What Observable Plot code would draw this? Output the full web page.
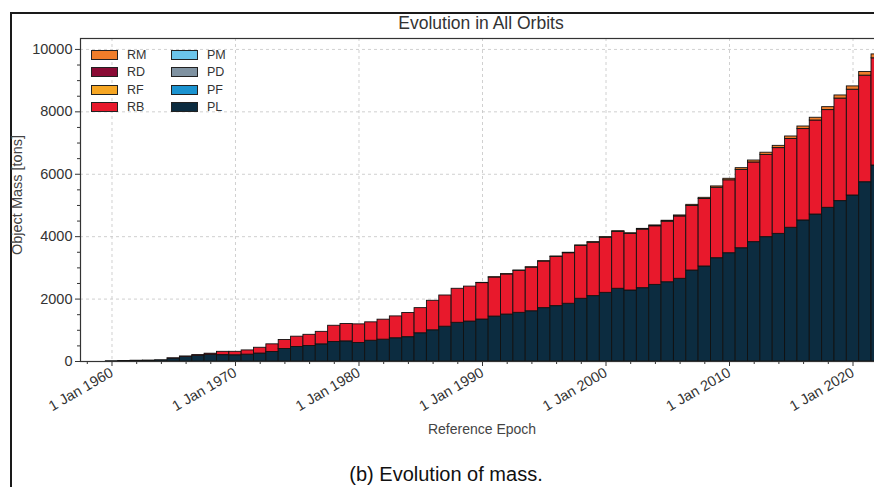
<!DOCTYPE html>
<html>
<head>
<meta charset="utf-8">
<script src="https://cdn.jsdelivr.net/npm/d3@7"></script>
<script src="https://cdn.jsdelivr.net/npm/@observablehq/plot@0.6"></script>
<style>
  html, body { margin: 0; padding: 0; background: #fff; }
  #page { position: relative; width: 874px; height: 487px; overflow: hidden; font-family: "Liberation Sans", Arial, sans-serif; }
  #frame { position: absolute; left: 10px; top: 12px; width: 900px; height: 520px; border: 2px solid #1a1a1a; box-sizing: border-box; }
  #chart { position: absolute; left: 0; top: 0; width: 894px; height: 440px; }
  #chart svg { max-width: none !important; }
  .lbl { position: absolute; white-space: nowrap; line-height: 1; }
  #title { left: 481px; top: 15px; transform: translateX(-50%); font-size: 17.5px; color: #333; }
  #xlabel { left: 482px; top: 422px; transform: translateX(-50%); font-size: 14px; color: #444; }
  #ylabel { left: 17px; top: 195px; transform: translate(-50%, -50%) rotate(-90deg); font-size: 14.5px; color: #444; }
  #caption { left: 446px; top: 464px; transform: translateX(-50%); font-size: 20px; color: #111; }
  #legend { position: absolute; left: 91px; top: 46px; display: grid; grid-template-rows: repeat(4, 17.5px); grid-auto-flow: column; grid-template-columns: 80px 80px; font-size: 12.5px; color: #333; }
  .item { display: flex; align-items: center; }
  .sw { width: 25px; height: 8px; border: 1px solid #222; margin-right: 9px; }
</style>
</head>
<body>
<div id="page">
  <div id="frame"></div>
  <div id="chart"></div>
  <div id="title" class="lbl">Evolution in All Orbits</div>
  <div id="xlabel" class="lbl">Reference Epoch</div>
  <div id="ylabel" class="lbl">Object Mass [tons]</div>
  <div id="caption" class="lbl">(b) Evolution of mass.</div>
  <div id="legend"></div>
</div>
<script>
// Categories in stacking order (bottom to top)
const categories = ["PL", "PF", "PD", "PM", "RB", "RF", "RD", "RM"];
const categoryColors = ["#0c2c40", "#1b93d0", "#7f92a1", "#6cc5ea", "#e8192c", "#f6a623", "#8a0b35", "#f07d2a"];
// Legend order (column-wise)
const legendOrder = ["RM", "RD", "RF", "RB", "PM", "PD", "PF", "PL"];

const years = [1960, 1961, 1962, 1963, 1964, 1965, 1966, 1967, 1968, 1969,
  1970, 1971, 1972, 1973, 1974, 1975, 1976, 1977, 1978, 1979,
  1980, 1981, 1982, 1983, 1984, 1985, 1986, 1987, 1988, 1989,
  1990, 1991, 1992, 1993, 1994, 1995, 1996, 1997, 1998, 1999,
  2000, 2001, 2002, 2003, 2004, 2005, 2006, 2007, 2008, 2009,
  2010, 2011, 2012, 2013, 2014, 2015, 2016, 2017, 2018, 2019,
  2020, 2021, 2022];

// Payload mass (PL), tons
const massPL = [8, 15, 25, 30, 40, 95, 150, 185, 215, 205,
  200, 220, 255, 305, 400, 465, 495, 550, 625, 645,
  595, 665, 700, 745, 780, 905, 1000, 1115, 1240, 1280,
  1345, 1440, 1505, 1560, 1610, 1710, 1775, 1850, 2010, 2095,
  2200, 2330, 2275, 2350, 2455, 2540, 2650, 2915, 3045, 3310,
  3470, 3630, 3825, 3985, 4090, 4285, 4520, 4710, 4925, 5140,
  5320, 5745, 6280];

// Rocket body mass (RB), tons
const massRB = [0, 0, 0, 0, 0, 5, 10, 20, 35, 105,
  110, 135, 185, 245, 290, 330, 360, 400, 520, 555,
  595, 590, 640, 700, 775, 805, 945, 1000, 1090, 1120,
  1167, 1252, 1285, 1345, 1398, 1493, 1576, 1620, 1694, 1712,
  1765, 1823, 1813, 1875, 1878, 1940, 1998, 2070, 2162, 2258,
  2337, 2510, 2553, 2635, 2748, 2847, 2928, 3012, 3131, 3285,
  3389, 3415, 3435];

// Rocket mission related object mass (RM), tons
const massRM = [0, 0, 0, 0, 0, 0, 0, 0, 0, 0,
  0, 0, 0, 0, 0, 0, 0, 0, 0, 0,
  0, 0, 0, 0, 0, 0, 0, 0, 0, 0,
  8, 8, 10, 10, 12, 12, 14, 15, 16, 18,
  20, 22, 22, 25, 27, 30, 32, 35, 38, 42,
  48, 55, 62, 70, 72, 78, 82, 88, 94, 100,
  106, 115, 125];

const seriesByCat = { PL: massPL, RB: massRB, RM: massRM };

const majorYears = [1960, 1970, 1980, 1990, 2000, 2010, 2020];
const minorYears = [1958, 1962, 1964, 1966, 1968, 1972, 1974, 1976, 1978, 1982, 1984, 1986, 1988,
  1992, 1994, 1996, 1998, 2002, 2004, 2006, 2008, 2012, 2014, 2016, 2018, 2022];
const majorMass = [0, 2000, 4000, 6000, 8000, 10000];
const minorMass = [500, 1000, 1500, 2500, 3000, 3500, 4500, 5000, 5500, 6500, 7000, 7500, 8500, 9000, 9500];

// Build long table in stacking order
const table = [];
years.forEach((yr, i) => {
  categories.forEach(cat => {
    const s = seriesByCat[cat];
    if (s && s[i] > 0) table.push({ year: yr, cat, value: s[i] });
  });
});

const chart = Plot.plot({
  width: 894,
  height: 440,
  marginLeft: 80,
  marginRight: 10,
  marginTop: 38,
  marginBottom: 79,
  style: { fontFamily: "Liberation Sans, Arial, sans-serif", fontSize: "14.5px", color: "#333", background: "transparent", overflow: "visible", maxWidth: "none" },
  x: { type: "linear", domain: [1957.45, 2022.55] },
  y: { domain: [0, 10350] },
  color: { domain: categories, range: categoryColors },
  marks: [
    Plot.gridX(majorYears, { stroke: "#c4c4c4", strokeOpacity: 1, strokeDasharray: "3,3", strokeWidth: 0.8 }),
    Plot.gridY(majorMass.slice(1), { stroke: "#c4c4c4", strokeOpacity: 1, strokeDasharray: "3,3", strokeWidth: 0.8 }),
    Plot.rectY(table, Plot.stackY({
      x1: d => d.year - 0.5,
      x2: d => d.year + 0.5,
      y: "value",
      fill: "cat",
      stroke: "#111",
      strokeWidth: 0.9
    })),
    Plot.axisY(majorMass, { tickSize: 5, tickPadding: 3, tickFormat: d3.format("d"), label: null }),
    Plot.axisY(minorMass, { tickSize: 3, tickFormat: () => "", label: null }),
    Plot.axisX(majorYears, { tickSize: 5, tickPadding: 5, tickRotate: -30, tickFormat: d => `1 Jan ${d}`, label: null }),
    Plot.axisX(minorYears, { tickSize: 3, tickFormat: () => "", label: null }),
    Plot.frame({ stroke: "#333", strokeWidth: 1.2 })
  ]
});
chart.style.maxWidth = "none";
document.getElementById("chart").appendChild(chart);

// Legend
const legend = document.getElementById("legend");
legendOrder.forEach(cat => {
  const item = document.createElement("div");
  item.className = "item";
  const sw = document.createElement("span");
  sw.className = "sw";
  sw.style.background = categoryColors[categories.indexOf(cat)];
  const t = document.createElement("span");
  t.textContent = cat;
  item.appendChild(sw);
  item.appendChild(t);
  legend.appendChild(item);
});
</script>
</body>
</html>
